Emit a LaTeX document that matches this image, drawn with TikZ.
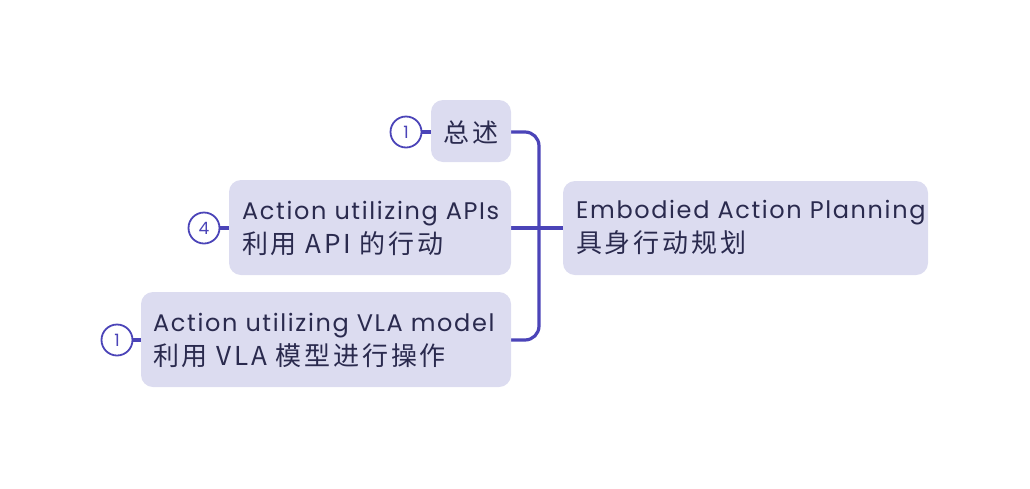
\documentclass[tikz,border=0pt]{standalone}
\usepackage{fontspec}
\setmainfont{Poppins}[LetterSpace=6.8]
\newfontfamily\cjk{Noto Sans CJK SC}[LetterSpace=10.8]
\newfontfamily\numfont{Poppins}
\definecolor{boxfill}{HTML}{DCDCF0}
\definecolor{linec}{HTML}{4B44B8}
\definecolor{txt}{HTML}{2A2A4E}
\newcommand\cj[1]{{\cjk\fontsize{26}{34}\selectfont #1}}
\tikzset{
  topic/.style={fill=boxfill, rounded corners=12pt, inner sep=0pt},
  lbl/.style={anchor=west, inner sep=0pt, text=txt, font=\fontsize{24}{34}\selectfont, align=left},
  conn/.style={draw=linec, line width=3.2pt, rounded corners=14pt},
  badge/.style={circle, draw=linec, line width=1.8pt, fill=white, minimum size=31pt, inner sep=0pt, text=linec, font=\numfont\fontsize{17}{17}\selectfont},
  stub/.style={draw=linec, line width=3.2pt}
}
\begin{document}
\begin{tikzpicture}[x=1pt,y=-1pt]
\useasboundingbox (0,0) rectangle (1030,488);
% connectors
\draw[conn] (511,132) -- (539,132) -- (539,340) -- (511,340);
\draw[stub] (511,228) -- (563,228);
% boxes
\path[topic] (563,181) rectangle (928,275);
\node[lbl] (root) at (576,228) {Embodied Action Planning\\\cj{具身行动规划}};
\path[topic] (431,100) rectangle (511,162);
\node[anchor=center, inner sep=0pt, text=txt] (zs) at (471,132) {\cj{总述}};
\path[topic] (229,180) rectangle (511,275);
\node[lbl] (api) at (242,228) {Action utilizing APIs\\\cj{利用 API 的行动}};
\path[topic] (141,292) rectangle (511,387);
\node[lbl] (vla) at (153,340) {Action utilizing VLA model\\\cj{利用 VLA 模型进行操作}};
% badges
\node[badge] (b1) at (406,132) {1};
\node[badge] (b2) at (204,228) {4};
\node[badge] (b3) at (117,340) {1};
\draw[stub] (b1.east) -- (431,132);
\draw[stub] (b2.east) -- (229,228);
\draw[stub] (b3.east) -- (141,340);
\end{tikzpicture}
\end{document}
